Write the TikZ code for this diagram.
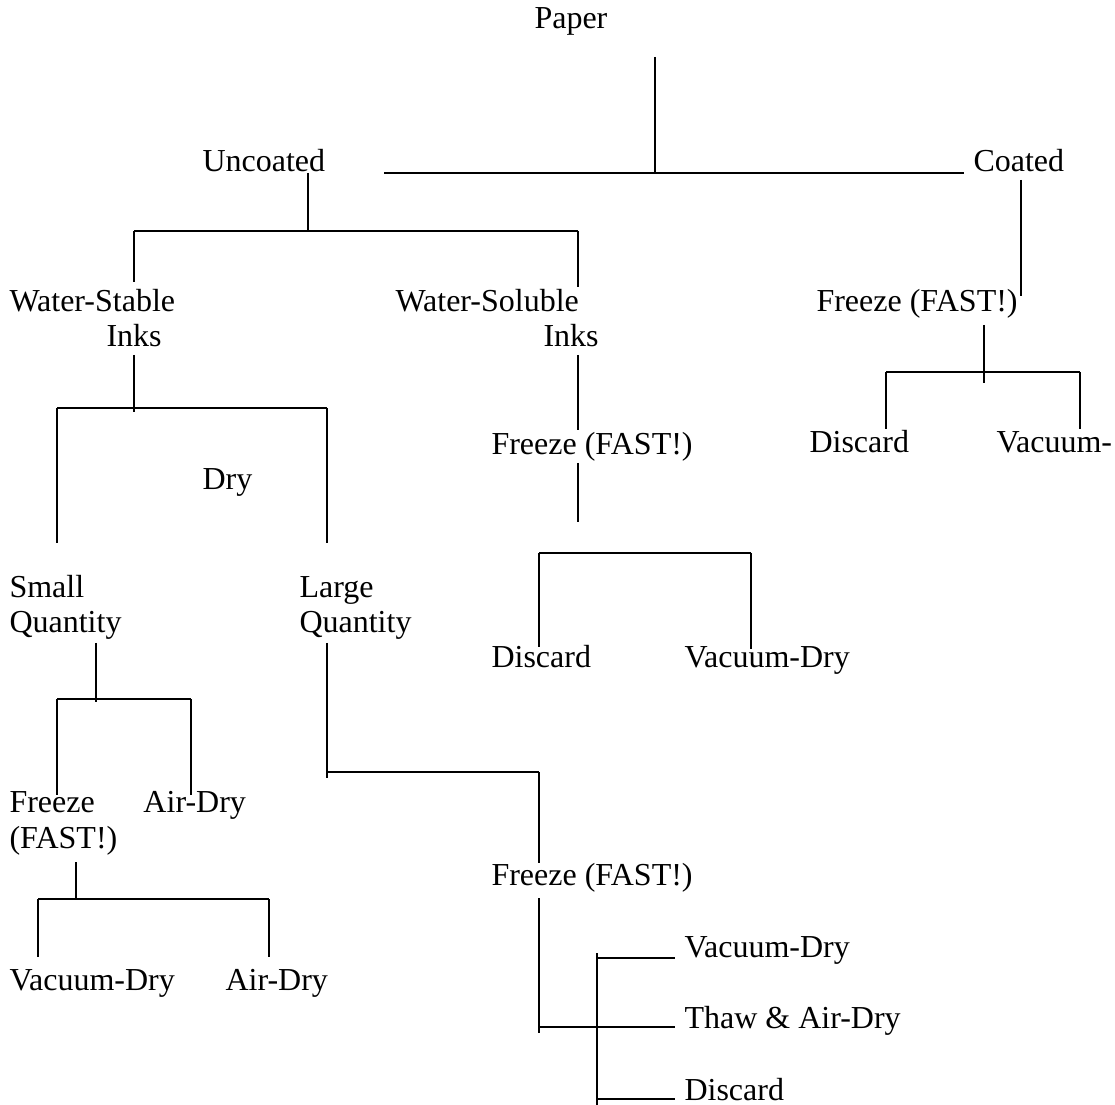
\documentclass[tikz,border=0pt]{standalone}
\usepackage{fontspec}
\setmainfont{Liberation Serif}
\begin{document}
\begin{tikzpicture}[x=0.4pt,y=-0.4pt,
  lbl/.style={anchor=base west,inner sep=0pt,align=left,font=\fontsize{12.8}{14}\selectfont},
  vln/.style={line width=0.45pt},
  hln/.style={line width=0.8pt}]
\useasboundingbox[fill=white] (0,0) rectangle (1115,1105);
% labels (two-line labels are anchored at the baseline of their last line)
\node[lbl] (paper) at (534,29) {Paper};
\node[lbl] (uncoated) at (202,172) {Uncoated};
\node[lbl] (coated) at (973,172) {Coated};
\node[lbl] (wstable) at (9,312) {Water-Stable};
\node[lbl] (wstinks) at (106,347) {Inks};
\node[lbl] (wsol) at (395,312) {Water-Soluble};
\node[lbl] (wsolinks) at (543,347) {Inks};
\node[lbl] (freezeC) at (816,312) {Freeze (FAST!)};
\node[lbl] (discC) at (809,453) {Discard};
\node[lbl] (vacC) at (996,453) {Vacuum-};
\node[lbl] (freezeS) at (491,455) {Freeze (FAST!)};
\node[lbl] (discS) at (491,668) {Discard};
\node[lbl] (vacS) at (684,668) {Vacuum-Dry};
\node[lbl] (dry) at (202,490) {Dry};
\node[lbl] (small) at (9,633) {Small\\Quantity};
\node[lbl] (large) at (299,633) {Large\\Quantity};
\node[lbl] (freezeSm) at (9,848) {Freeze\\(FAST!)};
\node[lbl] (airSm) at (143,813) {Air-Dry};
\node[lbl] (vacSm) at (9,990) {Vacuum-Dry};
\node[lbl] (airSm2) at (225,990) {Air-Dry};
\node[lbl] (freezeL) at (491,885) {Freeze (FAST!)};
\node[lbl] (vacL) at (684,957) {Vacuum-Dry};
\node[lbl] (thawL) at (684,1028) {Thaw \& Air-Dry};
\node[lbl] (discL) at (684,1100) {Discard};
% junction coordinates
\coordinate (p1) at (655,57);   \coordinate (p2) at (655,173);
\coordinate (pL) at (384,173);  \coordinate (pR) at (964,173);
\coordinate (u1) at (308,173);  \coordinate (u2) at (308,231);
\coordinate (uL) at (134,231);  \coordinate (uR) at (578,231);
\coordinate (uLb) at (134,282); \coordinate (uRb) at (578,287);
\coordinate (c1) at (1021,180); \coordinate (c2) at (1021,296);
\coordinate (fc1) at (984,325); \coordinate (fc2) at (984,383);
\coordinate (fcL) at (886,372); \coordinate (fcR) at (1080,372);
\coordinate (fcLb) at (886,429); \coordinate (fcRb) at (1080,429);
\coordinate (ws1) at (134,355); \coordinate (ws2) at (134,412);
\coordinate (wsL) at (57,408);  \coordinate (wsR) at (327,408);
\coordinate (wsLb) at (57,543); \coordinate (wsRb) at (327,543);
\coordinate (so1) at (578,355); \coordinate (so2) at (578,430);
\coordinate (fs1) at (578,463); \coordinate (fs2) at (578,522);
\coordinate (fsL) at (539,553); \coordinate (fsR) at (751,553);
\coordinate (fsLb) at (539,647); \coordinate (fsRb) at (751,649);
\coordinate (sq1) at (96,643);  \coordinate (sq2) at (96,702);
\coordinate (sqL) at (57,699);  \coordinate (sqR) at (191,699);
\coordinate (sqLb) at (57,795); \coordinate (sqRb) at (191,795);
\coordinate (lq1) at (327,643); \coordinate (lq2) at (327,778);
\coordinate (lqL) at (327,772); \coordinate (lqR) at (539,772);
\coordinate (lqRb) at (539,863);
\coordinate (fm1) at (76,862);  \coordinate (fm2) at (76,900);
\coordinate (fmL) at (38,899);  \coordinate (fmR) at (269,899);
\coordinate (fmLb) at (38,957); \coordinate (fmRb) at (269,957);
\coordinate (fl1) at (539,898); \coordinate (fl2) at (539,1033);
\coordinate (flL) at (539,1027); \coordinate (flR) at (675,1027);
\coordinate (br1) at (597,953); \coordinate (br2) at (597,1105);
\coordinate (bv1) at (597,958); \coordinate (bv2) at (675,958);
\coordinate (bd1) at (597,1099); \coordinate (bd2) at (675,1099);
% connectors
\draw[vln] (p1) -- (p2);
\draw[hln] (pL) -- (pR);
\draw[vln] (u1) -- (u2);
\draw[hln] (uL) -- (uR);
\draw[vln] (uL) -- (uLb);
\draw[vln] (uR) -- (uRb);
\draw[vln] (c1) -- (c2);
\draw[vln] (fc1) -- (fc2);
\draw[hln] (fcL) -- (fcR);
\draw[vln] (fcL) -- (fcLb);
\draw[vln] (fcR) -- (fcRb);
\draw[vln] (ws1) -- (ws2);
\draw[hln] (wsL) -- (wsR);
\draw[vln] (wsL) -- (wsLb);
\draw[vln] (wsR) -- (wsRb);
\draw[vln] (so1) -- (so2);
\draw[vln] (fs1) -- (fs2);
\draw[hln] (fsL) -- (fsR);
\draw[vln] (fsL) -- (fsLb);
\draw[vln] (fsR) -- (fsRb);
\draw[vln] (sq1) -- (sq2);
\draw[hln] (sqL) -- (sqR);
\draw[vln] (sqL) -- (sqLb);
\draw[vln] (sqR) -- (sqRb);
\draw[vln] (lq1) -- (lq2);
\draw[hln] (lqL) -- (lqR);
\draw[vln] (lqR) -- (lqRb);
\draw[vln] (fm1) -- (fm2);
\draw[hln] (fmL) -- (fmR);
\draw[vln] (fmL) -- (fmLb);
\draw[vln] (fmR) -- (fmRb);
\draw[vln] (fl1) -- (fl2);
\draw[hln] (flL) -- (flR);
\draw[vln] (br1) -- (br2);
\draw[hln] (bv1) -- (bv2);
\draw[hln] (bd1) -- (bd2);
\end{tikzpicture}
\end{document}
